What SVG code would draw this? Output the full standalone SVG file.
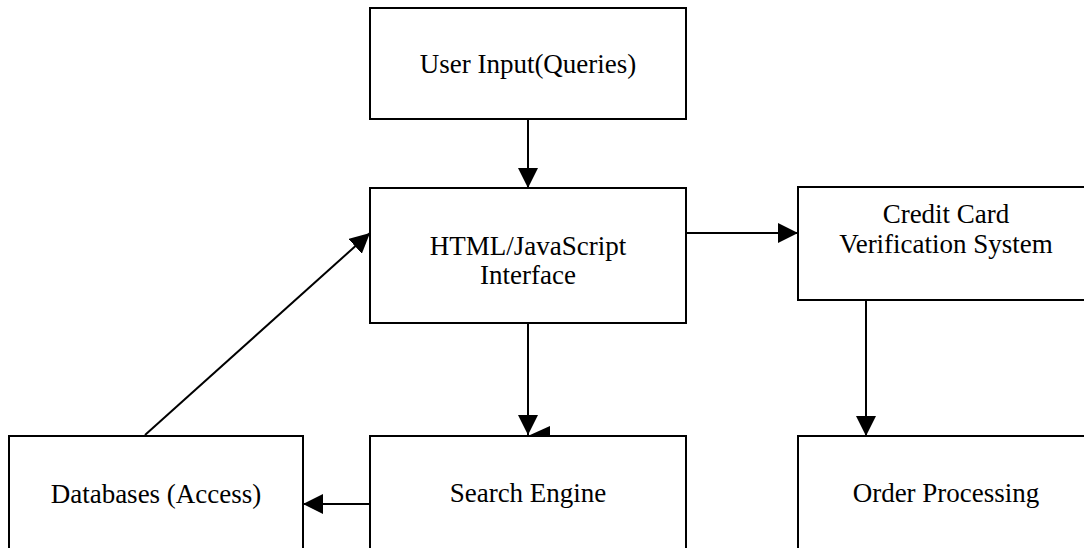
<svg xmlns="http://www.w3.org/2000/svg" width="1084" height="548" viewBox="0 0 1084 548">
<style>
.box{fill:#fff;stroke:#000;stroke-width:2}
.lbl{font-family:"Liberation Serif","Times New Roman",serif;font-size:27px;fill:#000;text-anchor:middle}
.con{stroke:#000;stroke-width:2;fill:none}
</style>
<defs>
<marker id="ah" viewBox="0 0 20 20" refX="20" refY="10" markerWidth="20" markerHeight="20" markerUnits="userSpaceOnUse" orient="auto">
<path d="M0,0 L20,10 L0,20 z" fill="#000"/>
</marker>
</defs>
<rect width="1084" height="548" fill="#fff"/>
<g id="user-input">
<rect class="box" x="370" y="8" width="316" height="111"/>
<text class="lbl" x="528" y="73">User Input(Queries)</text>
</g>
<g id="html-interface">
<rect class="box" x="370" y="188" width="316" height="135"/>
<text class="lbl" x="528" y="255">HTML/JavaScript</text>
<text class="lbl" x="528" y="284">Interface</text>
</g>
<g id="credit-card">
<rect class="box" x="798" y="187" width="300" height="113"/>
<text class="lbl" x="946" y="223">Credit Card</text>
<text class="lbl" x="946" y="253">Verification System</text>
</g>
<g id="databases">
<rect class="box" x="9" y="436" width="294" height="130"/>
<text class="lbl" x="156" y="503">Databases (Access)</text>
</g>
<g id="search-engine">
<rect class="box" x="370" y="436" width="316" height="130"/>
<text class="lbl" x="528" y="502">Search Engine</text>
</g>
<g id="order-processing">
<rect class="box" x="798" y="436" width="300" height="130"/>
<text class="lbl" x="946" y="502">Order Processing</text>
</g>
<g id="connectors">
<line class="con" x1="528" y1="119" x2="528" y2="188" marker-end="url(#ah)"/>
<line class="con" x1="686" y1="233" x2="798" y2="233" marker-end="url(#ah)"/>
<line class="con" x1="866" y1="300" x2="866" y2="436" marker-end="url(#ah)"/>
<line class="con" x1="528" y1="323" x2="528" y2="435" marker-end="url(#ah)"/>
<polygon points="530,435 550,426 550,435" fill="#000"/>
<line class="con" x1="370" y1="504" x2="303" y2="504" marker-end="url(#ah)"/>
<line class="con" x1="145" y1="435" x2="370" y2="233" marker-end="url(#ah)"/>
</g>
</svg>
